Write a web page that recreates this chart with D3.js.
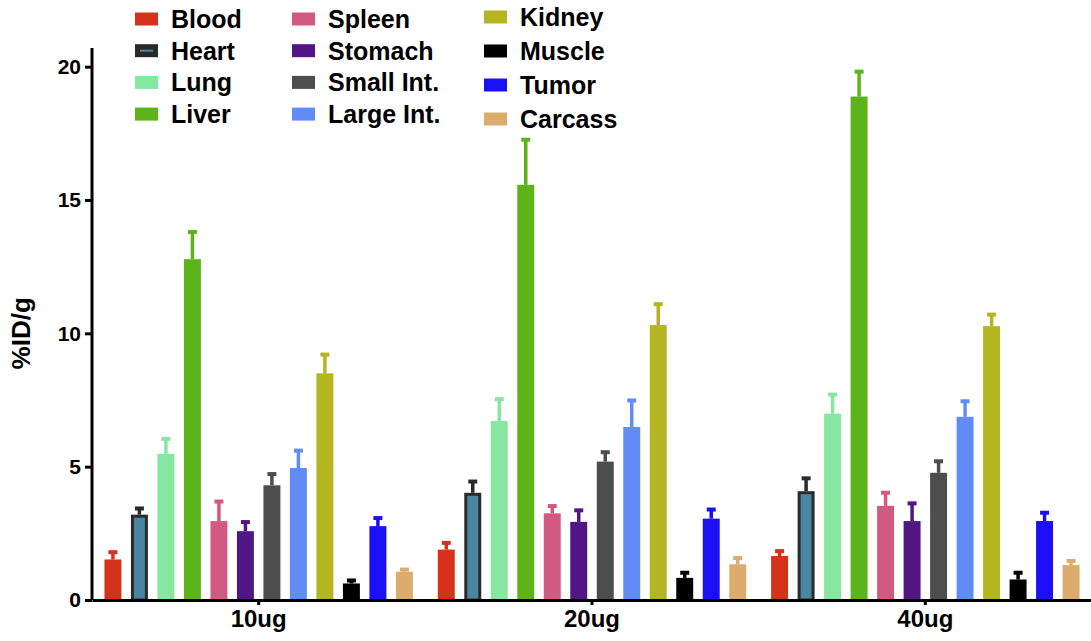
<!DOCTYPE html>
<html>
<head>
<meta charset="utf-8">
<script src="https://cdn.jsdelivr.net/npm/d3@7"></script>
<style>
  body { margin: 0; background: #fff; }
  text { font-family: "Liberation Sans", Arial, sans-serif; font-weight: bold; }
</style>
</head>
<body>
<svg id="chart" width="1091" height="641"></svg>
<script>
// datos (%ID/g, media y error)
var grupos = ["10ug", "20ug", "40ug"];
var organos = ["Blood", "Heart", "Lung", "Liver", "Spleen", "Stomach",
               "Small Int.", "Large Int.", "Kidney", "Muscle", "Tumor", "Carcass"];
var colores = ["#d4321a", "#4a86a3", "#86e8a0", "#5cb31a", "#d25a82", "#521585",
               "#4d4d4d", "#628cf5", "#b3b521", "#000000", "#1a0ff5", "#dcab6e"];
var media10 = [1.52, 3.20, 5.48, 12.78, 2.96, 2.58, 4.30, 4.95, 8.50, 0.62, 2.77, 1.06];
var error10 = [0.31, 0.27, 0.60, 1.06, 0.77, 0.38, 0.46, 0.69, 0.74, 0.15, 0.34, 0.12];
var media20 = [1.89, 4.02, 6.71, 15.57, 3.25, 2.93, 5.19, 6.49, 10.31, 0.83, 3.05, 1.34];
var error20 = [0.29, 0.46, 0.86, 1.73, 0.31, 0.47, 0.39, 1.03, 0.82, 0.23, 0.38, 0.27];
var media40 = [1.65, 4.08, 6.99, 18.88, 3.53, 2.96, 4.77, 6.87, 10.27, 0.77, 2.96, 1.31];
var error40 = [0.22, 0.52, 0.75, 0.97, 0.53, 0.70, 0.47, 0.62, 0.47, 0.29, 0.35, 0.19];
var yticks = [0, 5, 10, 15, 20];

var medias = [media10, media20, media40];
var errores = [error10, error20, error40];

var datos = [];
grupos.forEach(function(g, gi) {
    organos.forEach(function(o, oi) {
        datos.push({grupo: g, organo: o, v: medias[gi][oi], e: errores[gi][oi], c: colores[oi]});
    });
});

var svg = d3.select("#chart");

var x0 = d3.scaleBand().domain(grupos).range([92, 1092]);
var x1 = d3.scaleBand().domain(organos).range([0, x0.bandwidth()])
    .paddingInner(0.36).paddingOuter(0.47);
var y = d3.scaleLinear().domain([0, 20.7]).range([600, 48]);
var color = d3.scaleOrdinal().domain(organos).range(colores);

// barras
var g = svg.append("g");
g.selectAll(".bar")
    .data(datos)
    .enter()
    .append("rect")
    .attr("class", "bar")
    .attr("x", function(d) { return x0(d.grupo) + x1(d.organo) + (d.organo == "Heart" ? 1.5 : 0); })
    .attr("width", function(d) { return x1.bandwidth() - (d.organo == "Heart" ? 3 : 0); })
    .attr("y", function(d) { return y(d.v) + (d.organo == "Heart" ? 1.5 : 0); })
    .attr("height", function(d) { return y(0) - y(d.v) - (d.organo == "Heart" ? 1.5 : 0); })
    .style("fill", function(d) { return d.c; })
    .style("stroke", function(d) { return d.organo == "Heart" ? "#2a2a2a" : "none"; })
    .style("stroke-width", 3);

// barras de error
function colerr(d) { return d.organo == "Heart" ? "#2a2a2a" : d.c; }
g.selectAll(".err")
    .data(datos)
    .enter()
    .append("line")
    .attr("class", "err")
    .attr("x1", function(d) { return x0(d.grupo) + x1(d.organo) + x1.bandwidth() / 2; })
    .attr("x2", function(d) { return x0(d.grupo) + x1(d.organo) + x1.bandwidth() / 2; })
    .attr("y1", function(d) { return y(d.v); })
    .attr("y2", function(d) { return y(d.v + d.e); })
    .style("stroke", colerr)
    .style("stroke-width", 3.5);
g.selectAll(".cap")
    .data(datos)
    .enter()
    .append("rect")
    .attr("class", "cap")
    .attr("x", function(d) { return x0(d.grupo) + x1(d.organo) + x1.bandwidth() / 2 - 4.5; })
    .attr("width", 9)
    .attr("y", function(d) { return y(d.v + d.e) - 1; })
    .attr("height", 4)
    .style("fill", colerr);

// ejes
var ya = svg.append("g")
    .attr("transform", "translate(92,0)")
    .call(d3.axisLeft(y).tickValues(yticks).tickSize(7).tickPadding(4));
ya.select(".domain").attr("d", "M0," + y(20.7) + "V" + y(0));
ya.selectAll("path, line").style("stroke", "#000").style("stroke-width", 3);
ya.selectAll("text").style("font-size", "21px").style("fill", "#000");

var xa = svg.append("g")
    .attr("transform", "translate(0,600)")
    .call(d3.axisBottom(x0).tickSize(5).tickPadding(5).tickSizeOuter(0));
xa.selectAll("path, line").style("stroke", "#000").style("stroke-width", 3);
xa.selectAll("text").style("font-size", "24px").style("fill", "#000");

svg.append("text")
    .attr("transform", "translate(30," + y(10) + ") rotate(-90)")
    .attr("text-anchor", "middle")
    .style("font-size", "26px")
    .text("%ID/g");

// leyenda
var ley = svg.selectAll(".ley")
    .data(organos)
    .enter()
    .append("g")
    .attr("class", "ley")
    .attr("transform", function(d, i) {
        var col = Math.floor(i / 4), fila = i % 4;
        var px = [135, 292, 484][col];
        var py = col == 2 ? 17 + fila * 34 : 19 + fila * 31.7;
        return "translate(" + px + "," + py + ")";
    });
ley.append("rect")
    .attr("x", 0).attr("y", -6.5)
    .attr("width", 23).attr("height", 13)
    .style("fill", function(d) { return d == "Heart" ? "#2a2a2a" : color(d); });
ley.filter(function(d) { return d == "Heart"; })
    .append("rect")
    .attr("x", 5).attr("y", -1).attr("width", 13).attr("height", 2)
    .style("fill", "#4a86a3");
ley.append("text")
    .attr("x", 36).attr("y", 0).attr("dy", "0.36em")
    .style("font-size", "25px")
    .text(function(d) { return d; });
</script>
</body>
</html>
